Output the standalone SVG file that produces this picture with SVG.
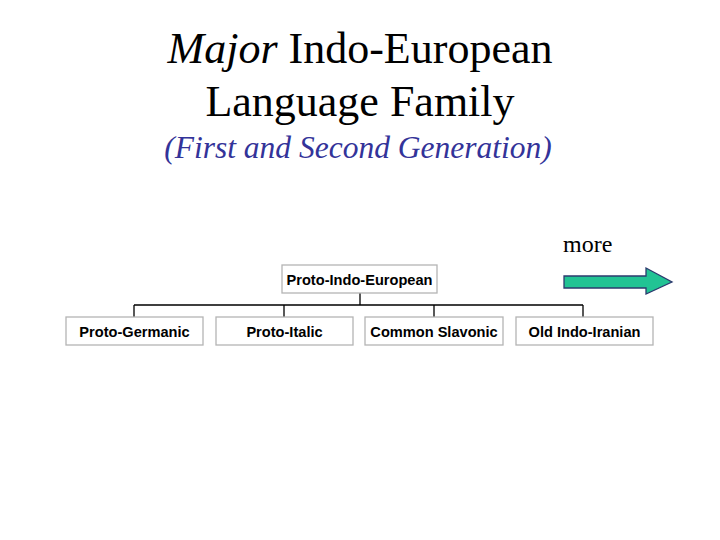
<svg xmlns="http://www.w3.org/2000/svg" width="720" height="540" viewBox="0 0 720 540">
<style>
.box{fill:#fff;stroke:#b4b4b4;stroke-width:1.3}
.lbl{font-family:"Liberation Sans",Arial,sans-serif;font-weight:bold;font-size:14.6px;fill:#000;text-anchor:middle}
.ttl{font-family:"Liberation Serif","Times New Roman",serif;fill:#000;text-anchor:middle}
.con{stroke:#000;stroke-width:1.3;fill:none}
</style>
<rect width="720" height="540" fill="#fff"/>
<text class="ttl" x="360" y="63" font-size="44"><tspan font-style="italic">Major</tspan> Indo-European</text>
<text class="ttl" x="360" y="116" font-size="44">Language Family</text>
<text class="ttl" x="358" y="158" font-size="31.5" font-style="italic" style="fill:#333399">(First and Second Generation)</text>
<text x="563" y="252" font-family="Liberation Serif,'Times New Roman',serif" font-size="24" fill="#000">more</text>
<polygon points="564,276 646,276 646,268 672,282 646,294 646,288 564,288" fill="#22c394" stroke="#2c3a6e" stroke-width="1.3"/>
<g id="connectors">
<path class="con" d="M360,293 V305 M134,305 H583 M134,305 V317 M284,305 V317 M434,305 V317 M583,305 V317"/>
</g>
<g id="proto-indo-european"><rect class="box" x="282" y="265" width="155" height="28"/><text class="lbl" x="359.5" y="284.5">Proto-Indo-European</text></g>
<g id="proto-germanic"><rect class="box" x="66" y="317" width="137" height="28"/><text class="lbl" x="134.5" y="336.5">Proto-Germanic</text></g>
<g id="proto-italic"><rect class="box" x="216" y="317" width="137" height="28"/><text class="lbl" x="284.5" y="336.5">Proto-Italic</text></g>
<g id="common-slavonic"><rect class="box" x="365" y="317" width="138" height="28"/><text class="lbl" x="434" y="336.5">Common Slavonic</text></g>
<g id="old-indo-iranian"><rect class="box" x="516" y="317" width="137" height="28"/><text class="lbl" x="584.5" y="336.5">Old Indo-Iranian</text></g>
</svg>
